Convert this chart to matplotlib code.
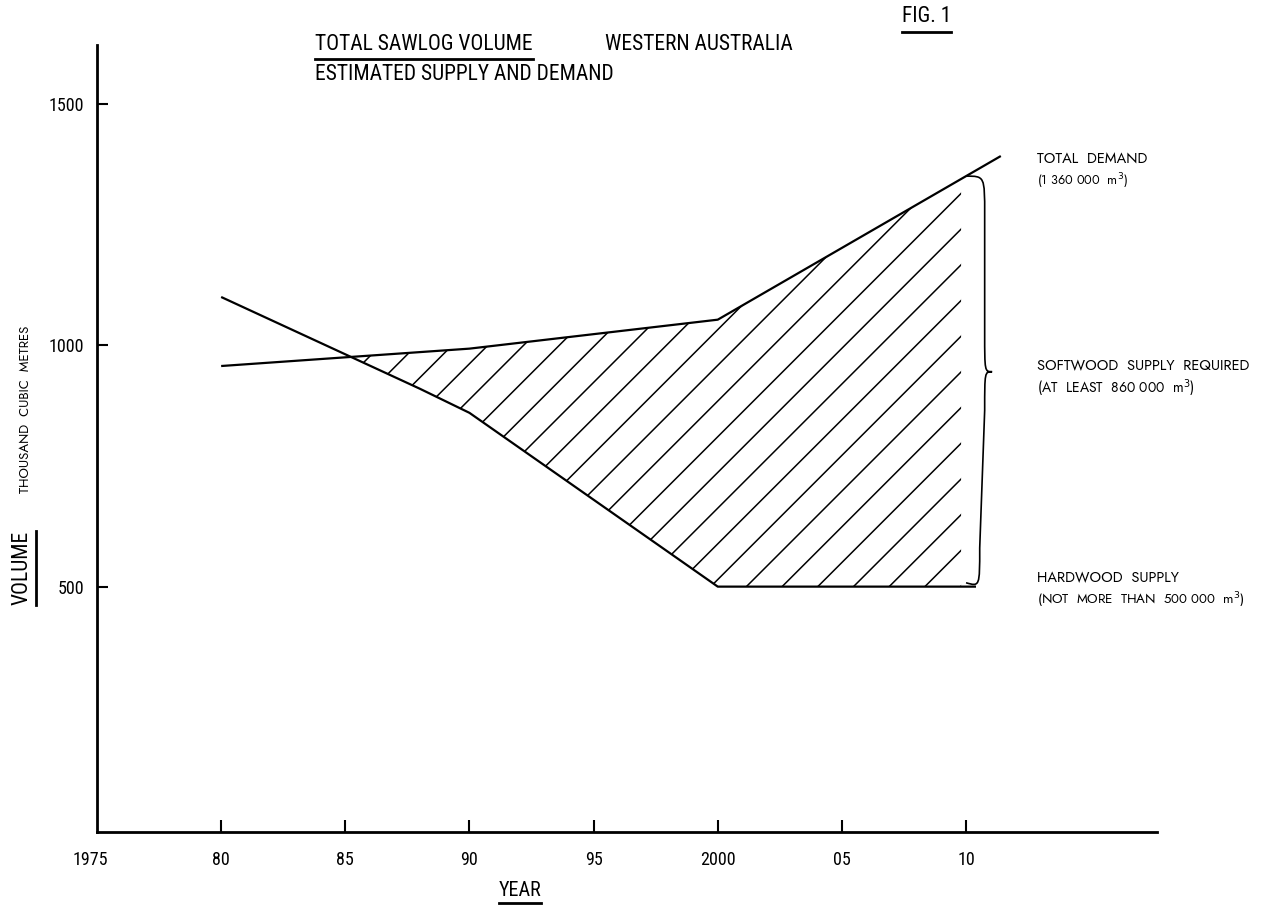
import numpy as np
import matplotlib
matplotlib.use("Agg")
import matplotlib.pyplot as plt
from matplotlib.path import Path
from matplotlib.patches import PathPatch
from matplotlib.collections import LineCollection
from matplotlib.transforms import IdentityTransform, ScaledTranslation
from matplotlib.lines import Line2D

# ---------------- data ----------------
demand_years = [1980, 1990, 2000, 2011.4]
demand_values = [957, 993, 1053, 1392]
hardwood_years = [1980, 1988, 1990, 2000, 2010.4]
hardwood_values = [1100, 910, 860, 500, 500]
shade_end_year = 2009.8
brace_year = 2010
x_ticks = [1975, 1980, 1985, 1990, 1995, 2000, 2005, 2010]
x_tick_labels = ["1975", "80", "85", "90", "95", "2000", "05", "10"]
y_ticks = [500, 1000, 1500]
y_tick_labels = ["500", "1000", "1500"]

W, H = 1268, 908
NARROW = ["Roboto Condensed", "DejaVu Sans"]
WIDE = ["Jost", "DejaVu Sans"]

fig = plt.figure(figsize=(W / 100, H / 100), dpi=100)
ax = fig.add_axes([97 / W, (H - 832) / H, 1060 / W, (832 - 45) / H])
ax.set_xlim(1975, 2017.69)
ax.set_ylim(-8.3, 1622)

for s in ["top", "right"]:
    ax.spines[s].set_visible(False)
for s in ["left", "bottom"]:
    ax.spines[s].set_linewidth(2.0)

ax.set_xticks(x_ticks)
ax.set_xticklabels(x_tick_labels, fontfamily=NARROW, fontsize=13)
ax.set_yticks(y_ticks)
ax.set_yticklabels(y_tick_labels, fontfamily=NARROW, fontsize=13)
ax.tick_params(axis="x", direction="in", length=9, width=1.5, pad=14)
ax.tick_params(axis="y", direction="in", length=8, width=1.5, pad=9)
ax.xaxis.get_major_ticks()[0].tick1line.set_visible(False)
first_lab = ax.get_xticklabels()[0]
first_lab.set_transform(first_lab.get_transform() + ScaledTranslation(-7 / 100, 0, fig.dpi_scale_trans))

# lines
ax.plot(demand_years, demand_values, color="black", lw=1.6, solid_capstyle="butt")
ax.plot(hardwood_years, hardwood_values, color="black", lw=1.6, solid_capstyle="butt")

# shaded (hatched) region between supply and demand
grid = np.array(sorted(set([y for y in demand_years + hardwood_years if y < shade_end_year] + [shade_end_year])))
d_g = np.interp(grid, demand_years, demand_values)
s_g = np.interp(grid, hardwood_years, hardwood_values)
fb = ax.fill_between(grid, s_g, d_g, where=d_g >= s_g, interpolate=True,
                     facecolor="none", edgecolor="none", lw=0)
clip_path = fb.get_paths()[0]

# hatch lines at 45 degrees in pixel space
spacing = 35.7
anchor = 425.0
segs = []
for k in range(-40, 40):
    c = anchor + k * spacing
    segs.append([(c, 0), (c + 1000, 1000)])
lc = LineCollection(segs, colors="black", linewidths=1.1, transform=IdentityTransform())
ax.add_collection(lc, autolim=False)
lc.set_clip_path(clip_path, ax.transData)

# brace
top = float(np.interp(brace_year, demand_years, demand_values))
bot = float(np.interp(brace_year, hardwood_years, hardwood_values))
mid = (top + bot) / 2 + 20
xb = brace_year + 0.75
xt = brace_year + 1.05
r = 80
verts = [(brace_year, top),
         (xb, top), (xb, top), (xb, top - r),
         (xb, mid + r),
         (xb, mid), (xb, mid), (xt, mid),
         (xb, mid), (xb, mid), (xb, mid - r),
         (xb - 0.2, bot + r),
         (xb - 0.2, bot), (xb - 0.2, bot), (brace_year, bot + 8)]
codes = [Path.MOVETO,
         Path.CURVE4, Path.CURVE4, Path.CURVE4,
         Path.LINETO,
         Path.CURVE4, Path.CURVE4, Path.CURVE4,
         Path.CURVE4, Path.CURVE4, Path.CURVE4,
         Path.LINETO,
         Path.CURVE4, Path.CURVE4, Path.CURVE4]
ax.add_patch(PathPatch(Path(verts, codes), facecolor="none", edgecolor="black", lw=1.2))


# ---------------- texts ----------------
def px(x, y):
    return x / W, 1 - y / H


def ftext(x, y, s, **kw):
    return fig.text(*px(x, y), s, **kw)


t_title = ftext(315, 45, "TOTAL SAWLOG VOLUME", fontfamily=NARROW, fontsize=15.5, va="center", ha="left")
ftext(605, 45, "WESTERN AUSTRALIA", fontfamily=NARROW, fontsize=15.5, va="center", ha="left")
ftext(315, 75, "ESTIMATED SUPPLY AND DEMAND", fontfamily=NARROW, fontsize=15.5, va="center", ha="left")
t_fig = ftext(902, 17, "FIG. 1", fontfamily=NARROW, fontsize=15.5, va="center", ha="left")
t_year = ftext(520, 890, "YEAR", fontfamily=NARROW, fontsize=14.5, va="center", ha="center")
t_vol = ftext(22, 568, "VOLUME", fontfamily=NARROW, fontsize=15.5, va="center", ha="center", rotation=90)
ftext(26, 409, "THOUSAND  CUBIC  METRES", fontfamily=WIDE, fontsize=9.5, va="center", ha="center", rotation=90)

lab_kw = dict(fontfamily=WIDE, fontsize=10.5, va="center", ha="left")
ftext(1037, 159, "TOTAL  DEMAND", **lab_kw)
ftext(1037, 181, "(1 360 000  m$^3$)", **dict(lab_kw, fontsize=9.2))
ftext(1037, 366, "SOFTWOOD  SUPPLY  REQUIRED", **lab_kw)
ftext(1037, 388, "(AT  LEAST  860 000  m$^3$)", **dict(lab_kw, fontsize=10))
ftext(1037, 578, "HARDWOOD  SUPPLY", **lab_kw)
ftext(1037, 600, "(NOT  MORE  THAN  500 000  m$^3$)", **dict(lab_kw, fontsize=9.6))

# underlines
fig.canvas.draw()
ren = fig.canvas.get_renderer()
for t, gap in [(t_title, 3), (t_fig, 4), (t_year, 3)]:
    bb = t.get_window_extent(ren)
    fig.add_artist(Line2D([bb.x0, bb.x1], [bb.y0 - gap, bb.y0 - gap], transform=IdentityTransform(),
                          color="black", lw=2.0))
bb = t_vol.get_window_extent(ren)
fig.add_artist(Line2D([bb.x1 + 3, bb.x1 + 3], [bb.y0, bb.y1], transform=IdentityTransform(),
                      color="black", lw=2.0))

fig.savefig("out.png", dpi=100, facecolor="white")
